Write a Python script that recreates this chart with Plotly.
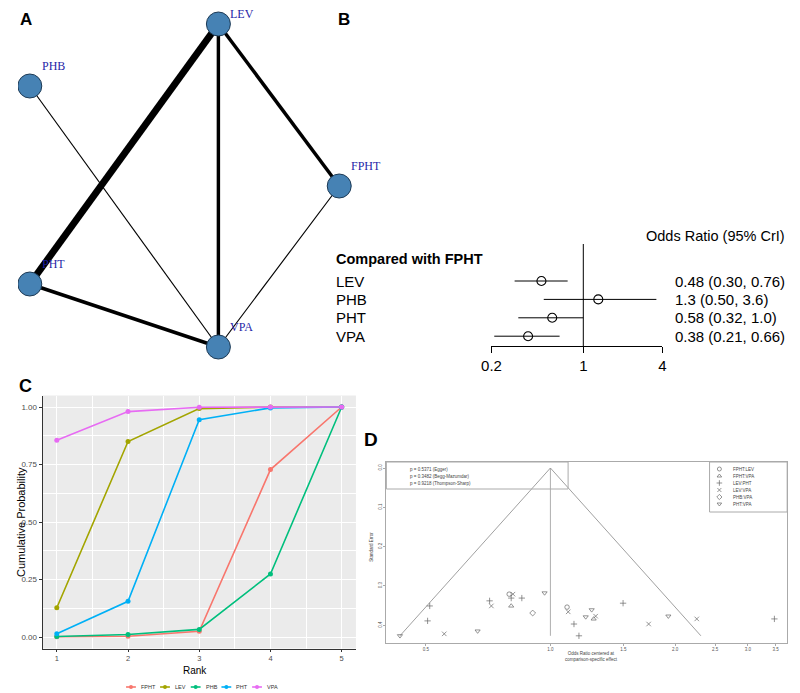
import numpy as np
import plotly.graph_objects as go

# ======================= DATA =======================
# Panel A: network of direct comparisons (edge weight = number of studies)
net_nodes = ["LEV", "PHB", "FPHT", "PHT", "VPA"]
net_edge_a = ["LEV", "LEV", "LEV", "PHT", "PHB", "FPHT"]
net_edge_b = ["PHT", "VPA", "FPHT", "VPA", "VPA", "VPA"]
net_edge_n = [6, 3, 3, 3, 1, 1]

# Panel B: forest plot vs FPHT
forest_ref = "FPHT"
forest_labels = ["LEV", "PHB", "PHT", "VPA"]
forest_or = [0.48, 1.3, 0.58, 0.38]
forest_lo = [0.30, 0.50, 0.32, 0.21]
forest_hi = [0.76, 3.6, 1.0, 0.66]
forest_ticks = [0.2, 1, 4]

# Panel C: cumulative ranking probabilities
rank_x = [1, 2, 3, 4, 5]
rank_names = ["FPHT", "LEV", "PHB", "PHT", "VPA"]
cum_fpht = [0.001, 0.003, 0.025, 0.728, 1.0]
cum_lev = [0.127, 0.850, 0.993, 1.0, 1.0]
cum_phb = [0.002, 0.011, 0.033, 0.274, 1.0]
cum_pht = [0.014, 0.155, 0.945, 0.996, 1.0]
cum_vpa = [0.855, 0.980, 0.999, 1.0, 1.0]
c_yticks = [0.0, 0.25, 0.50, 0.75, 1.00]

# Panel D: comparison-adjusted funnel plot
funnel_groups = ["FPHT:LEV", "FPHT:VPA", "LEV:PHT", "LEV:VPA", "PHB:VPA", "PHT:VPA"]
funnel_or = [0.433, 0.511, 0.505, 0.554, 0.667, 0.713, 0.720, 0.795, 0.812,
             0.804, 0.804, 0.853, 0.906, 0.968, 1.097, 1.104, 1.140, 1.172,
             1.217, 1.258, 1.272, 1.286, 1.498, 1.727, 1.927, 2.257, 3.476]
funnel_se = [0.427, 0.351, 0.389, 0.422, 0.415, 0.338, 0.351, 0.321, 0.321,
             0.331, 0.351, 0.331, 0.369, 0.318, 0.354, 0.366, 0.397, 0.427,
             0.379, 0.361, 0.384, 0.377, 0.344, 0.397, 0.377, 0.384, 0.384]
funnel_cmp = ["PHT:VPA", "LEV:PHT", "LEV:PHT", "LEV:VPA", "PHT:VPA", "LEV:PHT",
              "LEV:VPA", "FPHT:LEV", "LEV:VPA", "LEV:PHT", "FPHT:VPA", "LEV:PHT",
              "PHB:VPA", "PHT:VPA", "FPHT:LEV", "LEV:VPA", "LEV:PHT", "LEV:PHT",
              "PHT:VPA", "PHT:VPA", "FPHT:VPA", "LEV:VPA", "LEV:PHT", "LEV:VPA",
              "PHT:VPA", "LEV:VPA", "LEV:PHT"]
funnel_tests = ["p = 0.5371 (Egger)", "p = 0.3482 (Begg-Mazumdar)",
                "p = 0.9218 (Thompson-Sharp)"]
funnel_xticks = [0.5, 1.0, 1.5, 2.0, 2.5, 3.0, 3.5]
funnel_yticks = [0.0, 0.1, 0.2, 0.3, 0.4]

# ======================= LAYOUT / STYLE =======================
# The page body has an 8px margin, so the figure is sized to the visible
# window and everything is positioned in window pixels.
PAGE_W, PAGE_H = 800, 693
OFF = 8
W, H = PAGE_W - OFF, PAGE_H - OFF
RIGHT_EDGE = 791  # last visible window column

SANS = "Liberation Sans, Arial, sans-serif"
SERIF = "Liberation Serif, Times New Roman, serif"


def pxx(x):
    return (x - OFF) / W


def pxy(y):
    return 1 - (y - OFF) / H


def domx(a, b):
    return [max(0, pxx(a)), min(1, pxx(b))]


def domy(top, bottom):
    return [max(0, pxy(bottom)), min(1, pxy(top))]


# network layout (window pixels)
node_xy = {"LEV": (212, 24), "PHB": (20, 86), "FPHT": (335, 186),
           "PHT": (20, 284), "VPA": (212, 347)}
EDGE_SCALE = 1.15
LABEL_DX, LABEL_DY = 10, -20
LABEL_MIN_Y = 14

# forest layout
B_ROW0, B_ROWSTEP = 281, 18.4
B_TOP, B_AXIS = 244, 346

# funnel layout: pixel of OR = 1 and pixels per decade
D_LEFT, D_RIGHT, D_TOP, D_BOTTOM = 383, RIGHT_EDGE, 462, 643
D_X1, D_PXDEC = 550, 421.4
D_SE0, D_PXSE = 468, 393

c_colors = ["#F8766D", "#A3A500", "#00BF7D", "#00B0F6", "#E76BF3"]
cum_series = [cum_fpht, cum_lev, cum_phb, cum_pht, cum_vpa]

d_symbols = {"FPHT:LEV": "circle-open", "FPHT:VPA": "triangle-up-open",
             "LEV:PHT": "cross-thin-open", "LEV:VPA": "x-thin-open",
             "PHB:VPA": "diamond-open", "PHT:VPA": "triangle-down-open"}
D_GREY = "#666666"
D_FRAME = "#AAAAAA"

fig = go.Figure()
annotations = []
shapes = []


def ann(text, x, y, size, color="black", family=SANS, xanchor="center",
        yanchor="middle", angle=0, xref="paper", yref="paper", px=True):
    if px:
        x, y = pxx(x), pxy(y)
    annotations.append(dict(text=text, x=x, y=y, xref=xref, yref=yref,
                            showarrow=False, xanchor=xanchor, yanchor=yanchor,
                            textangle=angle,
                            font=dict(size=size, color=color, family=family)))


# ---------------- Panel A ----------------
for a, b, n in zip(net_edge_a, net_edge_b, net_edge_n):
    (xa, ya), (xb, yb) = node_xy[a], node_xy[b]
    fig.add_trace(go.Scatter(x=[xa, xb], y=[ya, yb], mode="lines",
                             line=dict(color="black", width=EDGE_SCALE * n),
                             xaxis="x", yaxis="y", showlegend=False,
                             hoverinfo="skip"))
fig.add_trace(go.Scatter(x=[node_xy[t][0] for t in net_nodes],
                         y=[node_xy[t][1] for t in net_nodes], mode="markers",
                         marker=dict(size=24, color="#4682B4",
                                     line=dict(color="#1d3a55", width=1)),
                         xaxis="x", yaxis="y", showlegend=False, hoverinfo="skip"))
for t in net_nodes:
    ann(t, node_xy[t][0] + LABEL_DX, max(LABEL_MIN_Y, node_xy[t][1] + LABEL_DY), 12,
        color="#1f1fa8", family=SERIF, xanchor="left")

# ---------------- Panel B ----------------
rows = list(range(len(forest_labels)))
ci_x, ci_y = [], []
for i in rows:
    ci_x += [forest_lo[i], forest_hi[i], None]
    ci_y += [i, i, None]
fig.add_trace(go.Scatter(x=ci_x, y=ci_y, mode="lines",
                         line=dict(color="black", width=1),
                         xaxis="x2", yaxis="y2", showlegend=False, hoverinfo="skip"))
fig.add_trace(go.Scatter(x=forest_or, y=rows, mode="markers",
                         marker=dict(symbol="circle-open", size=9, color="black",
                                     line=dict(width=1.1, color="black")),
                         xaxis="x2", yaxis="y2", showlegend=False,
                         cliponaxis=False, hoverinfo="skip"))
shapes.append(dict(type="line", xref="x2", yref="y2 domain", x0=1, x1=1, y0=0, y1=1,
                   line=dict(color="black", width=1)))


def sig2(v):
    return f"{v:#.2g}"


for i in rows:
    ann(forest_labels[i], pxx(330), i, 15, xanchor="left", yref="y2", px=False)
    ann(f"{sig2(forest_or[i])} ({sig2(forest_lo[i])}, {sig2(forest_hi[i])})",
        pxx(675), i, 15, xanchor="left", yref="y2", px=False)
ann(f"<b>Compared with {forest_ref}</b>", 330, 259, 14.5, xanchor="left")
ann("Odds Ratio (95% CrI)", RIGHT_EDGE, 236, 14.5, xanchor="right")

# ---------------- Panel C ----------------
for name, col, vals in zip(rank_names, c_colors, cum_series):
    fig.add_trace(go.Scatter(x=rank_x, y=vals, mode="lines+markers", name=name,
                             line=dict(color=col, width=1.6),
                             marker=dict(color=col, size=5),
                             xaxis="x3", yaxis="y3", showlegend=False,
                             cliponaxis=False, hoverinfo="skip"))
shapes.append(dict(type="rect", xref="x3 domain", yref="y3 domain", x0=0, x1=1,
                   y0=0, y1=1, fillcolor="#EBEBEB", line=dict(width=0),
                   layer="below"))
ann("Rank", 188, 670, 10)
ann("Cumulative Probability", 11, 522, 11, angle=-90)

# manual ggplot-like legend, laid out from the names
lx, ly = 118, 687
LEG_SIZE = 5.5
for name, col in zip(rank_names, c_colors):
    fig.add_trace(go.Scatter(x=[lx, lx + 10], y=[ly, ly], mode="lines",
                             line=dict(color=col, width=1.6), xaxis="x", yaxis="y",
                             showlegend=False, hoverinfo="skip"))
    fig.add_trace(go.Scatter(x=[lx + 5], y=[ly], mode="markers",
                             marker=dict(color=col, size=4), xaxis="x", yaxis="y",
                             showlegend=False, hoverinfo="skip"))
    ann(name, lx + 13, ly, LEG_SIZE, color="#333333", xanchor="left")
    lx += 13 + 0.62 * LEG_SIZE * len(name) + 8

# ---------------- Panel D ----------------
se_max = max(funnel_se)
se_grid = np.linspace(0, se_max, 60)
fig.add_trace(go.Scatter(x=np.exp(-1.96 * se_grid), y=se_grid, mode="lines",
                         line=dict(color="#777777", width=0.7), xaxis="x4", yaxis="y4",
                         showlegend=False, hoverinfo="skip"))
fig.add_trace(go.Scatter(x=np.exp(1.96 * se_grid), y=se_grid, mode="lines",
                         line=dict(color="#777777", width=0.7), xaxis="x4", yaxis="y4",
                         showlegend=False, hoverinfo="skip"))
fig.add_trace(go.Scatter(x=[1, 1], y=[0, se_max], mode="lines",
                         line=dict(color="#999999", width=0.8), xaxis="x4", yaxis="y4",
                         showlegend=False, hoverinfo="skip"))
for g in funnel_groups:
    xs = [o for o, c in zip(funnel_or, funnel_cmp) if c == g]
    ys = [s for s, c in zip(funnel_se, funnel_cmp) if c == g]
    fig.add_trace(go.Scatter(x=xs, y=ys, mode="markers",
                             marker=dict(symbol=d_symbols[g], size=4.5, color=D_GREY,
                                         line=dict(color=D_GREY, width=0.7)),
                             xaxis="x4", yaxis="y4", showlegend=False,
                             hoverinfo="skip"))

# test box (top-left) and legend box (top-right)
shapes.append(dict(type="rect", xref="paper", yref="paper",
                   x0=pxx(D_LEFT), x1=pxx(568), y0=pxy(489), y1=pxy(D_TOP),
                   line=dict(color=D_FRAME, width=1)))
for k, t in enumerate(funnel_tests):
    ann(t, 405, 469 + 7 * k, 4.5, color="#444444", xanchor="left")
shapes.append(dict(type="rect", xref="paper", yref="paper",
                   x0=pxx(712), x1=pxx(D_RIGHT), y0=pxy(512), y1=pxy(D_TOP),
                   line=dict(color=D_FRAME, width=1)))
for k, g in enumerate(funnel_groups):
    fig.add_trace(go.Scatter(x=[722], y=[469 + 7 * k], mode="markers",
                             marker=dict(symbol=d_symbols[g], size=4, color=D_GREY,
                                         line=dict(color=D_GREY, width=0.7)),
                             xaxis="x", yaxis="y", showlegend=False, hoverinfo="skip"))
    ann(g, 734, 469 + 7 * k, 4.5, color="#444444", xanchor="left")
ann("Standard Error", 367, 547, 4.5, color="#444444", angle=-90)
ann("Odds Ratio centered at<br>comparison-specific effect", 592, 656, 4.5,
    color="#444444")

# panel letters
ann("<b>A</b>", 16, 19, 17)
ann("<b>B</b>", 340, 19, 17)
ann("<b>C</b>", 16, 386, 18)
ann("<b>D</b>", 367, 439, 19)

# ======================= AXES =======================
b_ymin = (B_TOP - B_ROW0) / B_ROWSTEP
b_ymax = (B_AXIS - B_ROW0) / B_ROWSTEP
d_xlo = (D_LEFT - D_X1) / D_PXDEC
d_xhi = (D_RIGHT - D_X1) / D_PXDEC
d_ytop = (D_TOP - D_SE0) / D_PXSE
d_ybot = (D_BOTTOM - D_SE0) / D_PXSE

fig.update_layout(
    width=W, height=H, margin=dict(l=0, r=0, t=0, b=0),
    paper_bgcolor="white", plot_bgcolor="rgba(0,0,0,0)",
    showlegend=False, font=dict(family=SANS),
    annotations=annotations, shapes=shapes,
    xaxis=dict(domain=[0, 1], range=[OFF, PAGE_W], visible=False, anchor="y"),
    yaxis=dict(domain=[0, 1], range=[PAGE_H, OFF], visible=False, anchor="x"),
    xaxis2=dict(domain=domx(490, 664), type="log",
                range=[np.log10(forest_ticks[0]), np.log10(forest_ticks[-1])],
                tickvals=forest_ticks, ticktext=[f"{t:g}" for t in forest_ticks],
                showline=True, linecolor="black", linewidth=1, ticks="outside",
                ticklen=6, tickcolor="black", tickwidth=1, showgrid=False,
                zeroline=False, tickfont=dict(size=15, color="black", family=SANS),
                anchor="y2"),
    yaxis2=dict(domain=domy(B_TOP, B_AXIS), range=[b_ymax, b_ymin], visible=False,
                anchor="x2"),
    xaxis3=dict(domain=domx(33, 352), range=[0.8, 5.2], tickvals=rank_x,
                showgrid=True, gridcolor="white", gridwidth=1.2,
                minor=dict(tickmode="array",
                           tickvals=[(a + b) / 2 for a, b in zip(rank_x[:-1], rank_x[1:])],
                           showgrid=True, gridcolor="white", gridwidth=0.6),
                showline=True, linecolor="#333333", linewidth=1, ticks="outside",
                ticklen=2, tickcolor="#333333", zeroline=False,
                tickfont=dict(size=7.5, color="#4D4D4D"), anchor="y3"),
    yaxis3=dict(domain=domy(395.5, 648.5), range=[-0.05, 1.05], tickvals=c_yticks,
                ticktext=[f"{v:.2f}" for v in c_yticks],
                showgrid=True, gridcolor="white", gridwidth=1.2,
                minor=dict(tickmode="array",
                           tickvals=[(a + b) / 2 for a, b in zip(c_yticks[:-1], c_yticks[1:])],
                           showgrid=True, gridcolor="white", gridwidth=0.6),
                showline=True, linecolor="#333333", linewidth=1, ticks="outside",
                ticklen=3, tickcolor="#333333", zeroline=False,
                tickfont=dict(size=8, color="#4D4D4D"), anchor="x3"),
    xaxis4=dict(domain=domx(D_LEFT, D_RIGHT), type="log", range=[d_xlo, d_xhi],
                tickvals=funnel_xticks, ticktext=[f"{v:.1f}" for v in funnel_xticks],
                showline=True, mirror=True, linecolor=D_FRAME, linewidth=1,
                ticks="outside", ticklen=2, tickcolor=D_FRAME, showgrid=False,
                zeroline=False, tickfont=dict(size=4.5, color="#555555"), anchor="y4"),
    yaxis4=dict(domain=domy(D_TOP, D_BOTTOM), range=[d_ybot, d_ytop],
                tickvals=funnel_yticks, ticktext=[f"{v:.1f}" for v in funnel_yticks],
                tickangle=-90, showline=True, mirror=True, linecolor=D_FRAME,
                linewidth=1, ticks="outside", ticklen=2, tickcolor=D_FRAME,
                showgrid=False, zeroline=False,
                tickfont=dict(size=4.5, color="#555555"), anchor="x4"),
)

fig.write_html("out.html")
